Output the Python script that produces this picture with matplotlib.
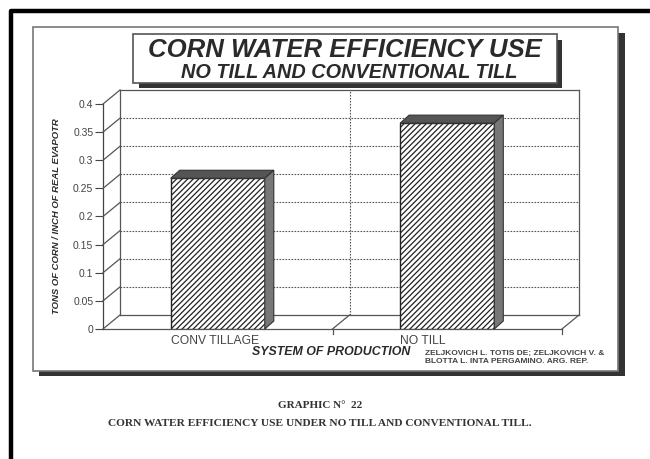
import matplotlib
matplotlib.use("Agg")
import matplotlib.pyplot as plt
from matplotlib.transforms import offset_copy, IdentityTransform
from matplotlib.patches import Rectangle, Polygon
from matplotlib.lines import Line2D

# ---- data ----
categories = ["CONV TILLAGE", "NO TILL"]
values = [0.268, 0.366]
yticks = [0, 0.05, 0.1, 0.15, 0.2, 0.25, 0.3, 0.35, 0.4]
ytick_labels = ["0", "0.05", "0.1", "0.15", "0.2", "0.25", "0.3", "0.35", "0.4"]
title1 = "CORN WATER EFFICIENCY USE"
title2 = "NO TILL AND CONVENTIONAL TILL"
ylabel = "TONS OF CORN / INCH OF REAL EVAPOTR"
xlabel = "SYSTEM OF PRODUCTION"
source = "ZELJKOVICH L. TOTIS DE; ZELJKOVICH V. &\nBLOTTA L. INTA PERGAMINO. ARG. REP."
caption1 = "GRAPHIC N°  22"
caption2 = "CORN WATER EFFICIENCY USE UNDER NO TILL AND CONVENTIONAL TILL."

W, H = 650, 459
DPI = 100
plt.rcParams["hatch.linewidth"] = 0.9
fig = plt.figure(figsize=(W / DPI, H / DPI), dpi=DPI)
fig.patch.set_facecolor("white")

# overlay axes in pixel coordinates (top-left origin) for decorations
deco = fig.add_axes([0, 0, 1, 1])
deco.set_xlim(0, W)
deco.set_ylim(H, 0)
deco.axis("off")

ink = "#2a2a2a"
# outer black border (top and left)
deco.plot([10.5, 10.5, 650], [459, 11, 11], color="black", lw=3.2, solid_capstyle="butt")
# inner chart frame with shadow
deco.add_patch(Rectangle((39, 371), 586, 5, color="#333333", lw=0))
deco.add_patch(Rectangle((618, 33), 7, 343, color="#333333", lw=0))
deco.add_patch(Rectangle((33, 27), 585, 344, fill=False, ec="#777777", lw=1.2))
# title box with shadow
deco.add_patch(Rectangle((139, 83), 423, 5, color="#333333", lw=0))
deco.add_patch(Rectangle((557, 40), 5, 48, color="#333333", lw=0))
deco.add_patch(Rectangle((133, 34), 424, 49, fc="white", ec="#555555", lw=1.2))
deco.text(345, 50, title1, ha="center", va="center", fontsize=18.5,
          fontweight="bold", style="italic", family="Liberation Sans", color=ink)
deco.text(349, 72, title2, ha="center", va="center", fontsize=14.3,
          fontweight="bold", style="italic", family="Liberation Sans", color=ink)

# ---- chart (front face) ----
x0, x1 = 103, 562
yb, yt = 329, 104
ax = fig.add_axes([x0 / W, 1 - yb / H, (x1 - x0) / W, (yb - yt) / H])
ax.set_xlim(0, 2)
ax.set_ylim(0, 0.4)
ax.patch.set_alpha(0)
for s in ["top", "right", "bottom"]:
    ax.spines[s].set_visible(False)
ax.spines["left"].set_color("#444444")
ax.spines["left"].set_linewidth(0.9)
ax.set_xticks([])
ax.set_yticks(yticks)
ax.set_yticklabels(ytick_labels, fontsize=7.5, color="#444444", family="Liberation Sans")
ax.tick_params(axis="y", direction="out", length=6, width=0.8, color="#444444", pad=1)

DX, DY = 17, 14
back = offset_copy(ax.transData, fig=fig, x=DX, y=DY, units="dots")
lc = "#555555"
# back wall gridlines
for v in yticks[1:-1]:
    ax.plot([0, 2], [v, v], transform=back, color=lc, lw=0.8, ls=(0, (1.5, 1.2)),
            clip_on=False)
for xs, ys in [([0, 2], [0.4, 0.4]), ([0, 2], [0, 0]), ([0, 0], [0, 0.4]), ([2, 2], [0, 0.4])]:
    ax.plot(xs, ys, transform=back, color=lc, lw=0.9, clip_on=False)
ax.plot([1, 1], [0, 0.4], transform=back, color=lc, lw=0.8, ls=(0, (1.5, 1.2)),
        clip_on=False)
# floor front edge
ax.plot([0, 2], [0, 0], color=lc, lw=0.9, clip_on=False)


def seg(p, q, **kw):
    a = ax.transData.transform(p)
    b = back.transform(q)
    fig.add_artist(Line2D([a[0], b[0]], [a[1], b[1]], transform=IdentityTransform(), **kw))


# side wall diagonals
for v in yticks:
    seg((0, v), (0, v), color=lc, lw=0.9)
seg((1, 0), (1, 0), color=lc, lw=0.9)
seg((2, 0), (2, 0), color=lc, lw=0.9)
# small ticks below floor
for xv in [1, 2]:
    a = ax.transData.transform((xv, 0))
    fig.add_artist(Line2D([a[0], a[0]], [a[1], a[1] - 5], transform=IdentityTransform(),
                          color=lc, lw=0.9))

# bars
pos = [0.5, 1.5]
bw = 0.41
bars = ax.bar(pos, values, width=bw, color="white", edgecolor="#222222",
              hatch="//////", lw=1.0, zorder=3)
bdx, bdy = 9, 8
for b in bars:
    xl, xr = b.get_x(), b.get_x() + b.get_width()
    h = b.get_height()
    p_lt = ax.transData.transform((xl, h))
    p_rt = ax.transData.transform((xr, h))
    p_rb = ax.transData.transform((xr, 0))
    top = [p_lt, p_rt, p_rt + [bdx, bdy], p_lt + [bdx, bdy]]
    side = [p_rb, p_rt, p_rt + [bdx, bdy], p_rb + [bdx, bdy]]
    fig.add_artist(Polygon(top, closed=True, transform=IdentityTransform(),
                           fc="#555555", ec="#333333", lw=0.8, zorder=4))
    fig.add_artist(Polygon(side, closed=True, transform=IdentityTransform(),
                           fc="#777777", ec="#333333", lw=0.8, zorder=4))

# category labels, left aligned at bar left
for b, c in zip(bars, categories):
    ax.annotate(c, xy=(b.get_x(), 0), xytext=(0, -9), textcoords="offset points",
                ha="left", va="center", fontsize=8.7, color="#444444",
                family="Liberation Sans", annotation_clip=False)

deco.text(331, 352, xlabel, ha="center", va="center", fontsize=8.9,
          fontweight="bold", style="italic", family="Liberation Sans", color=ink)
deco.text(425, 357.5, source, ha="left", va="center", fontsize=6.0,
          fontweight="bold", family="Liberation Sans", color="#444444",
          linespacing=1.2)
deco.text(57, 216, ylabel, ha="center", va="center", rotation=90, fontsize=6.8,
          fontweight="bold", style="italic", family="Liberation Sans", color=ink)

deco.text(320, 406, caption1, ha="center", va="center", fontsize=8.0,
          fontweight="bold", family="Liberation Serif", color="#333333")
deco.text(320, 424, caption2, ha="center", va="center", fontsize=8.2,
          fontweight="bold", family="Liberation Serif", color="#333333")

fig.savefig("out.png", dpi=DPI)
